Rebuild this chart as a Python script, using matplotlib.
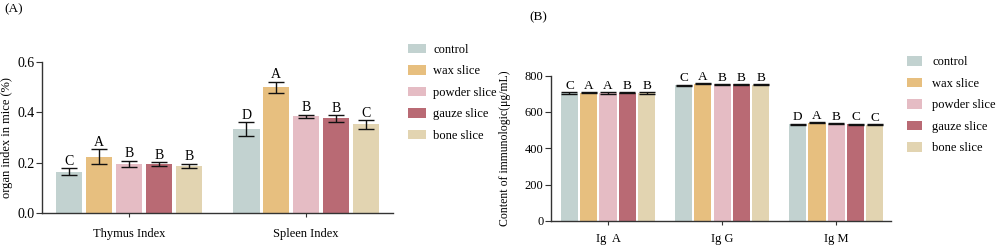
import numpy as np
import matplotlib
matplotlib.use('Agg')
import matplotlib.pyplot as plt
from matplotlib.patches import Patch

plt.rcParams['font.family'] = ['Liberation Serif', 'DejaVu Serif']

groups = ['control', 'wax slice', 'powder slice', 'gauze slice', 'bone slice']
colors = ['#c2d2d0', '#e7bf7f', '#e5bcc4', '#b96a74', '#e2d4b1']

# panel A
organ_labels = ['Thymus Index', 'Spleen Index']
organ_mean = {
    'control': [0.164, 0.333],
    'wax slice': [0.224, 0.499],
    'powder slice': [0.195, 0.384],
    'gauze slice': [0.195, 0.376],
    'bone slice': [0.188, 0.352],
}
organ_err = {
    'control': [0.013, 0.027],
    'wax slice': [0.029, 0.022],
    'powder slice': [0.013, 0.007],
    'gauze slice': [0.007, 0.013],
    'bone slice': [0.008, 0.017],
}
organ_letters = {
    'control': ['C', 'D'],
    'wax slice': ['A', 'A'],
    'powder slice': ['B', 'B'],
    'gauze slice': ['B', 'B'],
    'bone slice': ['B', 'C'],
}

# panel B
ig_labels = ['Ig  A', 'Ig G', 'Ig M']
ig_mean = {
    'control': [705, 748, 532],
    'wax slice': [706, 756, 540],
    'powder slice': [705, 752, 535],
    'gauze slice': [706, 752, 533],
    'bone slice': [705, 750, 531],
}
ig_err = {
    'control': [3, 3, 3],
    'wax slice': [3, 3, 3],
    'powder slice': [3, 3, 3],
    'gauze slice': [3, 3, 3],
    'bone slice': [3, 3, 3],
}
ig_letters = {
    'control': ['C', 'C', 'D'],
    'wax slice': ['A', 'A', 'A'],
    'powder slice': ['A', 'B', 'B'],
    'gauze slice': ['B', 'B', 'C'],
    'bone slice': ['B', 'B', 'C'],
}

pitch = 0.169
width = 0.15
axis_color = '#333333'


def draw_panel(ax, cats, means, errs, letters, capsize, letter_size, pad, xpad):
    x = np.arange(len(cats))
    for i, g in enumerate(groups):
        xs = x + (i - 2) * pitch
        ax.bar(xs, means[g], width, color=colors[i], label=g)
        ax.errorbar(xs, means[g], yerr=errs[g], fmt='none', ecolor='#111111',
                    elinewidth=1.0, capsize=capsize, capthick=1.0)
        for xi, m, e, t in zip(xs, means[g], errs[g], letters[g]):
            ax.text(xi, m + e + pad, t, ha='center', va='bottom',
                    fontsize=letter_size, clip_on=False)
    ax.set_xticks(x)
    ax.set_xticklabels(cats, fontsize=9)
    for s in ['top', 'right']:
        ax.spines[s].set_visible(False)
    for s in ['left', 'bottom']:
        ax.spines[s].set_color(axis_color)
        ax.spines[s].set_linewidth(1.0)
    ax.tick_params(axis='x', length=3, color=axis_color, pad=xpad)
    ax.tick_params(axis='y', length=4, color=axis_color, pad=1.5)


fig = plt.figure(figsize=(9.96, 2.5), dpi=100)

axA = fig.add_axes([0.0422, 0.148, 0.3524, 0.604])
draw_panel(axA, organ_labels, organ_mean, organ_err, organ_letters, 6, 10, 0.002, 8)
axA.set_xlim(-0.49, 1.49)
axA.set_ylim(0, 0.6)
axA.set_yticks([0.0, 0.2, 0.4, 0.6])
axA.set_yticklabels(['0.0', '0.2', '0.4', '0.6'])
axA.tick_params(axis='y', labelsize=10)
axA.set_ylabel('organ index in mice (%)', fontsize=9)
axA.yaxis.set_label_coords(-0.083, 0.5)

axB = fig.add_axes([0.5532, 0.117, 0.3414, 0.58])
draw_panel(axB, ig_labels, ig_mean, ig_err, ig_letters, 5.5, 9.5, 2, 6)
axB.set_xlim(-0.5, 2.48)
axB.set_ylim(0, 800)
axB.set_yticks([0, 200, 400, 600, 800])
axB.tick_params(axis='y', labelsize=9)
axB.set_ylabel('Content of immunologic(μg/mL)', fontsize=8.5)
axB.yaxis.set_label_coords(-0.118, 0.5)

fig.text(0.004, 0.985, '(A)', fontsize=9.5, ha='left', va='top')
fig.text(0.532, 0.955, '(B)', fontsize=9.5, ha='left', va='top')

handles = [Patch(facecolor=c, edgecolor='none') for c in colors]
legA = fig.legend(handles, groups, loc='upper left', bbox_to_anchor=(0.41, 0.825),
                  frameon=False, fontsize=9, handlelength=1.4, handleheight=0.8,
                  handletextpad=0.6, labelspacing=0.75, borderaxespad=0,
                  borderpad=0)
legB = fig.legend(handles, groups, loc='upper left', bbox_to_anchor=(0.911, 0.775),
                  frameon=False, fontsize=9, handlelength=1.2, handleheight=0.8,
                  handletextpad=0.8, labelspacing=0.75, borderaxespad=0,
                  borderpad=0)

fig.savefig('out.png', dpi=100)
